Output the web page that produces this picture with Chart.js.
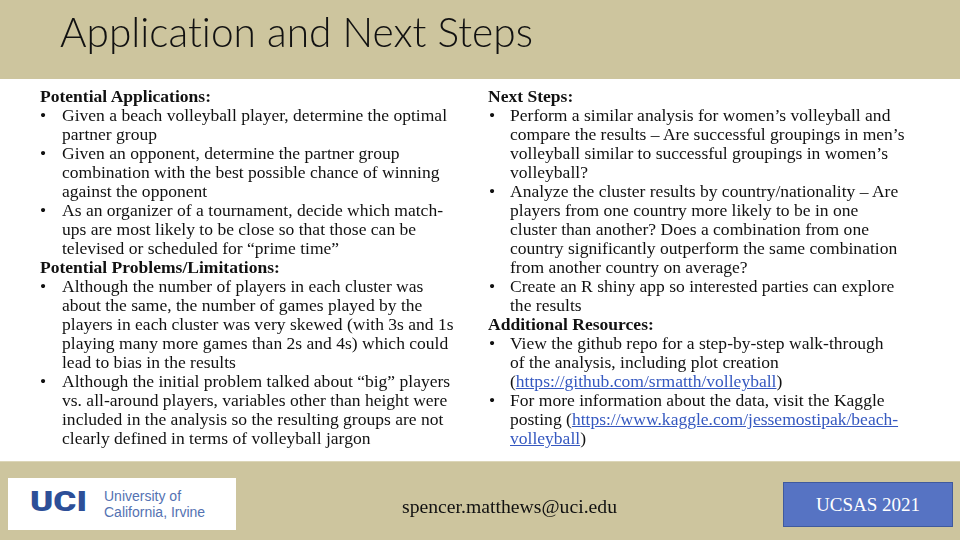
<!DOCTYPE html>
<html>
<head>
<meta charset="utf-8">
<script src="https://cdn.jsdelivr.net/npm/chart.js@4.4.1/dist/chart.umd.min.js"></script>
<style>
  html,body{margin:0;padding:0;background:#fff;}
  #slide{position:relative;width:960px;height:540px;overflow:hidden;}
  #bg{position:absolute;left:0;top:0;width:960px;height:540px;}
  .ln{position:absolute;white-space:nowrap;font-family:"Liberation Serif","DejaVu Serif",serif;color:#111;line-height:19px;height:19px;transform-origin:0 50%;}
  .ln.h{font-weight:bold;}
  .ln a{color:#3558c0;text-decoration:underline;}
  .bul{position:absolute;font-family:"Liberation Serif",serif;color:#111;line-height:19px;}
  #title{position:absolute;left:60px;top:6px;font-family:"Lato","DejaVu Sans",sans-serif;font-weight:300;font-size:41px;line-height:52px;color:#111;white-space:nowrap;transform-origin:0 0;font-variant-ligatures:none;font-feature-settings:"liga" 0;}
  #email{position:absolute;font-family:"Liberation Serif",serif;font-size:18px;color:#111;white-space:nowrap;transform-origin:0 0;}
  #logo{position:absolute;left:8px;top:478px;width:228px;height:52px;background:#fff;}
  #uci{position:absolute;left:22px;top:8px;font-family:"Roboto","Liberation Sans",sans-serif;font-weight:900;font-size:27px;line-height:32px;color:#2d4f98;transform-origin:0 0;white-space:nowrap;}
  #uni{position:absolute;left:96px;top:10px;font-family:"Liberation Sans","Arial",sans-serif;font-size:14px;line-height:16px;color:#5472b2;}
  #badge{position:absolute;left:783px;top:482px;width:168px;height:43px;background:#5673c3;border:1px solid #3f5a9e;color:#fff;font-family:"Liberation Serif",serif;font-size:19px;line-height:43px;text-align:center;}
</style>
</head>
<body>
<div id="slide">
  <canvas id="bg" width="960" height="540"></canvas>
  <div id="title"></div>
  <div id="body"></div>
  <div id="email"></div>
  <div id="logo"><div id="uci">UCI</div><div id="uni">University of<br>California, Irvine</div></div>
  <div id="badge"></div>
</div>
<script>
// ---- content (text lines as laid out on the slide) ----
const titleText = "Application and Next Steps";
const emailText = "spencer.matthews@uci.edu";
const badgeText = "UCSAS 2021";

// kind: h = heading, b = bullet start, c = continuation
const leftKinds = ["h","b","c","b","c","c","b","c","c","h","b","c","c","c","c","b","c","c","c"];
const leftLines = [
  "Potential Applications:",
  "Given a beach volleyball player, determine the optimal",
  "partner group",
  "Given an opponent, determine the partner group",
  "combination with the best possible chance of winning",
  "against the opponent",
  "As an organizer of a tournament, decide which match-",
  "ups are most likely to be close so that those can be",
  "televised or scheduled for \u201cprime time\u201d",
  "Potential Problems/Limitations:",
  "Although the number of players in each cluster was",
  "about the same, the number of games played by the",
  "players in each cluster was very skewed (with 3s and 1s",
  "playing many more games than 2s and 4s) which could",
  "lead to bias in the results",
  "Although the initial problem talked about \u201cbig\u201d players",
  "vs. all-around players, variables other than height were",
  "included in the analysis so the resulting groups are not",
  "clearly defined in terms of volleyball jargon"
];
const rightKinds = ["h","b","c","c","c","b","c","c","c","c","b","c","h","b","c","c","b","c","c"];
const rightLines = [
  "Next Steps:",
  "Perform a similar analysis for women\u2019s volleyball and",
  "compare the results \u2013 Are successful groupings in men\u2019s",
  "volleyball similar to successful groupings in women\u2019s",
  "volleyball?",
  "Analyze the cluster results by country/nationality \u2013 Are",
  "players from one country more likely to be in one",
  "cluster than another? Does a combination from one",
  "country significantly outperform the same combination",
  "from another country on average?",
  "Create an R shiny app so interested parties can explore",
  "the results",
  "Additional Resources:",
  "View the github repo for a step-by-step walk-through",
  "of the analysis, including plot creation",
  "(<a>https://github.com/srmatth/volleyball</a>)",
  "For more information about the data, visit the Kaggle",
  "posting (<a>https://www.kaggle.com/jessemostipak/beach-</a>",
  "<a>volleyball</a>)"
];

// ---- background bands drawn through Chart.js ----
const bandPlugin = {
  id: 'bands',
  beforeDraw(chart) {
    const c = chart.ctx, w = chart.width, h = chart.height;
    c.save();
    c.fillStyle = '#ffffff'; c.fillRect(0,0,w,h);
    c.fillStyle = '#cdc59e';
    c.fillRect(0,0,w,79);
    c.fillRect(0,462,w,h-462);
    c.fillStyle = '#dcd6b8';
    c.fillRect(0,461,w,1);
    c.restore();
  }
};
new Chart(document.getElementById('bg'), {
  type: 'bar',
  data: { labels: [], datasets: [] },
  options: {
    responsive: false, animation: false, devicePixelRatio: 1,
    layout: { padding: 0 },
    plugins: { legend: { display: false }, tooltip: { enabled: false } },
    scales: { x: { display: false }, y: { display: false } }
  },
  plugins: [bandPlugin]
});

// ---- text layout ----
function measure(txt, font){
  const c = document.createElement('canvas').getContext('2d');
  c.font = font; return c.measureText(txt).width;
}
const bodyFam = '"Liberation Serif", serif';
const fs = 17.5;
// horizontal stretch so the reference line spans ~385px
const sx = 385 / measure(leftLines[1], fs + 'px ' + bodyFam);
const body = document.getElementById('body');
function placeCol(lines, kinds, xHead, xBul, xText){
  lines.forEach((t,i)=>{
    const top = 87 + 19*i;
    const d = document.createElement('div');
    d.className = 'ln' + (kinds[i]==='h' ? ' h' : '');
    d.style.fontSize = fs + 'px';
    d.style.top = top + 'px';
    d.style.left = (kinds[i]==='h' ? xHead : xText) + 'px';
    d.style.transform = 'scaleX(' + sx + ')';
    d.innerHTML = t;
    body.appendChild(d);
    if (kinds[i]==='b'){
      const b = document.createElement('div');
      b.className = 'bul';
      b.style.fontSize = fs + 'px';
      b.style.top = top + 'px';
      b.style.left = xBul + 'px';
      b.textContent = '\u2022';
      body.appendChild(b);
    }
  });
}
placeCol(leftLines, leftKinds, 40, 40, 62);
placeCol(rightLines, rightKinds, 488, 489, 510);

const title = document.getElementById('title');
title.textContent = titleText;
const tw = title.getBoundingClientRect().width;
title.style.transform = 'scaleX(' + (473/tw) + ')';

const uci = document.getElementById('uci');
const uw = uci.getBoundingClientRect().width;
uci.style.transform = 'scaleX(' + (57/uw) + ')';

const email = document.getElementById('email');
email.textContent = emailText;
email.style.top = '497px';
const ew = email.getBoundingClientRect().width;
email.style.left = '402px';
email.style.transform = 'scaleX(' + (215/ew) + ')';

document.getElementById('badge').textContent = badgeText;
</script>
</body>
</html>
